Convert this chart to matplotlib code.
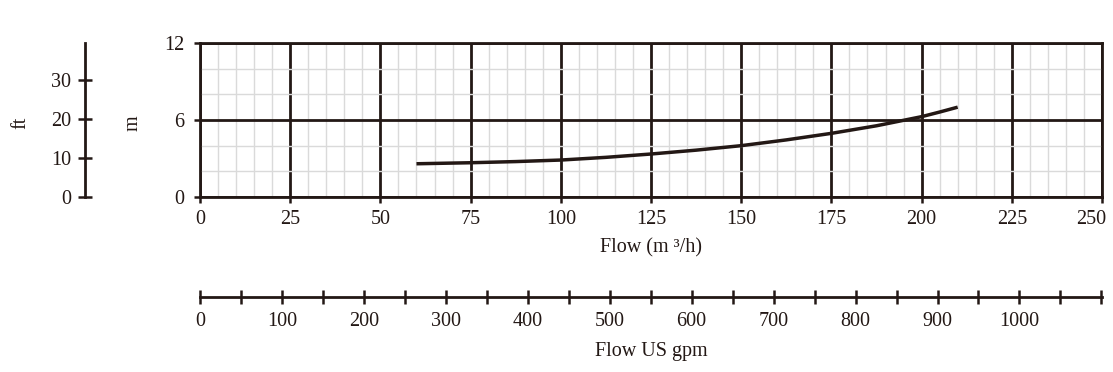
import numpy as np
import matplotlib
matplotlib.use("Agg")
import matplotlib.pyplot as plt
import matplotlib.transforms as mtransforms
from matplotlib.ticker import MultipleLocator

plt.rcParams["font.family"] = ["Liberation Serif", "DejaVu Serif"]

# curve: flow (m3/h) -> head (m)
flow = [60, 75, 87.5, 100, 112.5, 125, 137.5, 150, 162.5, 175, 187.5, 200, 205, 210]
head = [2.59, 2.67, 2.76, 2.88, 3.09, 3.35, 3.65, 4.0, 4.45, 4.96, 5.55, 6.26, 6.62, 7.0]

x_ticks = [0, 25, 50, 75, 100, 125, 150, 175, 200, 225, 250]
y_ticks = [0, 6, 12]
ft_ticks = [0, 10, 20, 30]
gpm_ticks = [0, 100, 200, 300, 400, 500, 600, 700, 800, 900, 1000]

M_TO_FT = 3.28084
M3H_TO_GPM = 4.40287

ink = "#231815"
fs = 14.5
W, H = 1113, 372

fig = plt.figure(figsize=(W / 100, H / 100), dpi=100)
ax = fig.add_axes([200 / W, 1 - 197 / H, 902 / W, 154 / H])
ax.set_xlim(0, 250)
ax.set_ylim(0, 12)

# grids
ax.xaxis.set_minor_locator(MultipleLocator(5))
ax.yaxis.set_minor_locator(MultipleLocator(2))
ax.grid(which="minor", color="#dadada", lw=1.0)
ax.grid(which="major", color=ink, lw=2.0)
ax.set_axisbelow(True)
for s in ax.spines.values():
    s.set_color(ink)
    s.set_linewidth(2.0)

ax.plot(flow, head, color=ink, lw=2.5, solid_capstyle="butt", zorder=5)

ax.set_xticks(x_ticks)
ax.set_yticks(y_ticks)
ax.tick_params(which="major", direction="out", length=4, width=1.8, color=ink,
               labelsize=fs, labelcolor=ink, pad=5)
ax.tick_params(axis="y", pad=7)
ax.tick_params(which="minor", length=0)
ax.set_xlabel("Flow (m \u00b3/h)", fontsize=fs, color=ink, labelpad=7)
ax.set_ylabel("m", fontsize=fs, color=ink)
ax.yaxis.set_label_coords((143 - 200) / 902, 0.48)

# last x label would run off the figure: pin its right edge near the tick
fig.canvas.draw()
last = ax.get_xticklabels()[-1]
last.set_ha("right")
last.set_transform(last.get_transform() +
                   mtransforms.ScaledTranslation(4 / 100, 0, fig.dpi_scale_trans))

# ft scale on the far left
ft = ax.secondary_yaxis(-115 / 902, functions=(lambda m: m * M_TO_FT, lambda f: f / M_TO_FT))
ft.set_yticks(ft_ticks)
ft.spines["left"].set_color(ink)
ft.spines["left"].set_linewidth(2.0)
ft.tick_params(direction="inout", length=10, width=1.8, color=ink,
               labelsize=fs, labelcolor=ink, pad=5)
ft.set_ylabel("ft", fontsize=fs, color=ink)
ft.yaxis.set_label_coords((30 - 200) / 902, 0.48, transform=ax.transAxes)

# US gpm scale underneath
gpm = ax.secondary_xaxis(-100 / 154, functions=(lambda q: q * M3H_TO_GPM, lambda g: g / M3H_TO_GPM))
gpm.set_xticks(gpm_ticks)
gpm.xaxis.set_minor_locator(MultipleLocator(50))
gpm.spines["bottom"].set_color(ink)
gpm.spines["bottom"].set_linewidth(2.0)
gpm.tick_params(which="both", direction="inout", length=10, width=1.8, color=ink,
                labelsize=fs, labelcolor=ink, pad=6)
gpm.set_xlabel("Flow US gpm", fontsize=fs, color=ink, labelpad=8)

fig.savefig("out.png", dpi=100)
